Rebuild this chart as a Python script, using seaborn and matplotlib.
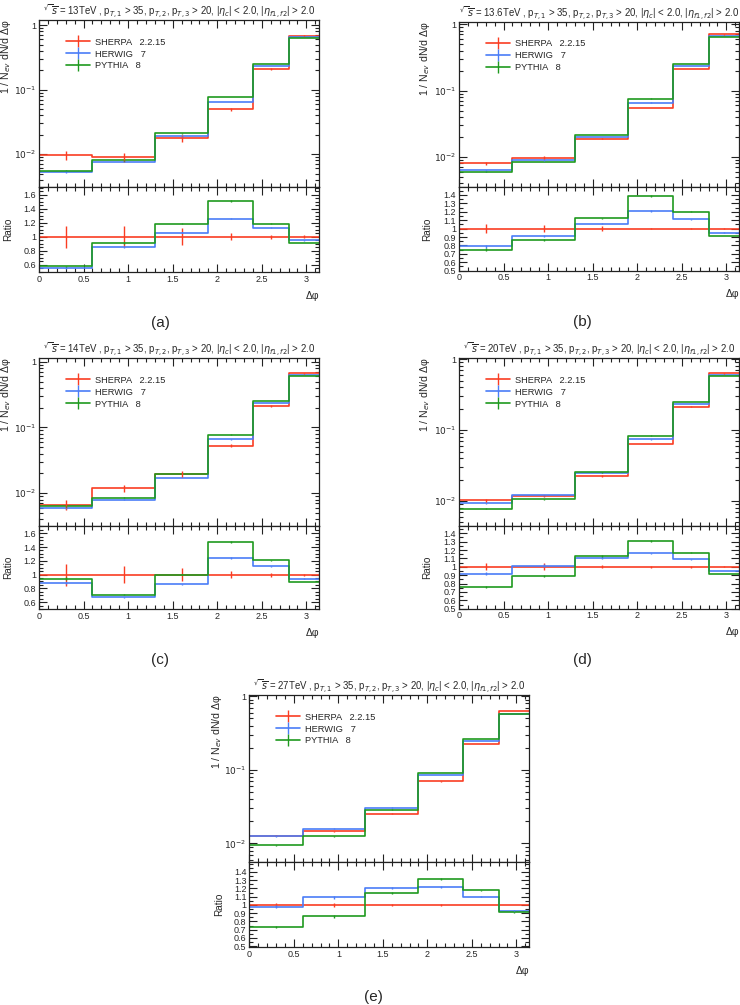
import numpy as np
import pandas as pd
import matplotlib
matplotlib.use("Agg")
import matplotlib.pyplot as plt
import seaborn as sns
from matplotlib.lines import Line2D
from matplotlib.ticker import FixedLocator, MultipleLocator, FuncFormatter, NullFormatter

# ---------------- data ----------------
edges = [0.0, 0.6, 1.3, 1.9, 2.4, 2.8, np.pi]
generators = ["SHERPA   2.2.15", "HERWIG   7", "PYTHIA   8"]
energies = ["13", "13.6", "14", "20", "27"]
tags = ["(a)", "(b)", "(c)", "(d)", "(e)"]

sherpa_13 = [0.0097, 0.0090, 0.0175, 0.050, 0.21, 0.69]
herwig_13 = [0.0053, 0.0076, 0.0188, 0.064, 0.234, 0.66]
pythia_13 = [0.0055, 0.0080, 0.021, 0.0765, 0.25, 0.64]
ratio_herwig_13 = [0.56, 0.85, 1.06, 1.26, 1.13, 0.95]
ratio_pythia_13 = [0.58, 0.91, 1.19, 1.51, 1.19, 0.91]
relerr_sherpa_13 = [0.16, 0.15, 0.12, 0.05, 0.03, 0.02]

sherpa_136 = [0.0080, 0.0098, 0.019, 0.055, 0.21, 0.70]
herwig_136 = [0.0063, 0.0089, 0.0201, 0.066, 0.233, 0.665]
pythia_136 = [0.0060, 0.0084, 0.0213, 0.076, 0.252, 0.637]
ratio_herwig_136 = [0.79, 0.91, 1.06, 1.21, 1.11, 0.95]
ratio_pythia_136 = [0.75, 0.86, 1.12, 1.39, 1.20, 0.91]
relerr_sherpa_136 = [0.05, 0.04, 0.03, 0.01, 0.01, 0.005]

sherpa_14 = [0.0067, 0.0119, 0.0197, 0.053, 0.21, 0.67]
herwig_14 = [0.0059, 0.0079, 0.0169, 0.066, 0.234, 0.63]
pythia_14 = [0.0063, 0.0085, 0.0197, 0.078, 0.254, 0.60]
ratio_herwig_14 = [0.88, 0.67, 0.86, 1.24, 1.12, 0.94]
ratio_pythia_14 = [0.94, 0.71, 1.00, 1.47, 1.21, 0.89]
relerr_sherpa_14 = [0.16, 0.12, 0.10, 0.05, 0.03, 0.015]

sherpa_20 = [0.0102, 0.0119, 0.0226, 0.064, 0.215, 0.63]
herwig_20 = [0.0093, 0.0121, 0.0249, 0.074, 0.234, 0.60]
pythia_20 = [0.0078, 0.0106, 0.0255, 0.084, 0.252, 0.58]
ratio_herwig_20 = [0.915, 1.015, 1.10, 1.16, 1.09, 0.95]
ratio_pythia_20 = [0.76, 0.89, 1.13, 1.31, 1.17, 0.915]
relerr_sherpa_20 = [0.04, 0.04, 0.02, 0.01, 0.01, 0.005]

sherpa_27 = [0.0128, 0.0146, 0.0253, 0.0695, 0.223, 0.625]
herwig_27 = [0.0126, 0.0159, 0.0306, 0.0848, 0.245, 0.58]
pythia_27 = [0.0094, 0.0126, 0.0288, 0.091, 0.263, 0.57]
ratio_herwig_27 = [0.98, 1.09, 1.21, 1.22, 1.10, 0.93]
ratio_pythia_27 = [0.73, 0.86, 1.14, 1.31, 1.18, 0.91]
relerr_sherpa_27 = [0.02, 0.02, 0.01, 0.01, 0.005, 0.005]

relerr_mc = [0.02, 0.015, 0.01, 0.008, 0.005, 0.004]

main_values = [
    (sherpa_13, herwig_13, pythia_13),
    (sherpa_136, herwig_136, pythia_136),
    (sherpa_14, herwig_14, pythia_14),
    (sherpa_20, herwig_20, pythia_20),
    (sherpa_27, herwig_27, pythia_27),
]
ratio_values = [
    (ratio_herwig_13, ratio_pythia_13),
    (ratio_herwig_136, ratio_pythia_136),
    (ratio_herwig_14, ratio_pythia_14),
    (ratio_herwig_20, ratio_pythia_20),
    (ratio_herwig_27, ratio_pythia_27),
]
sherpa_errors = [relerr_sherpa_13, relerr_sherpa_136, relerr_sherpa_14,
                 relerr_sherpa_20, relerr_sherpa_27]

# ---------------- style / layout ----------------
sns.set_style("ticks")
plt.rcParams["font.family"] = ["Liberation Sans", "DejaVu Sans"]
plt.rcParams["mathtext.fontset"] = "dejavusans"

colors = ["#fa3d22", "#4a7df7", "#1f9a1f"]
W, H = 740, 1005
fig = plt.figure(figsize=(W / 100, H / 100), dpi=100)


def rect(left, top, width, bottom):
    return [left / W, 1 - bottom / H, width / W, (bottom - top) / H]


# (left, top, width, boundary, bottom) in pixels
geo = [
    (39, 20, 280, 187, 272),
    (459, 21.7, 280, 187.3, 270.7),
    (39, 358, 280, 525.7, 609),
    (459, 358, 280, 525.7, 608.7),
    (249.3, 695, 279.7, 862, 947),
]
main_ylims = [(0.0031, 1.2), (0.0035, 1.09), (0.0032, 1.14), (0.0045, 1.04), (0.0056, 1.04)]
ratio_ylims = [(0.5, 1.71), (0.5, 1.49), (0.5, 1.71), (0.5, 1.49), (0.49, 1.52)]
ylabel_x = [6, 425, 6, 425, 217]
tag_pos = [(160, 323), (582, 322), (160, 660), (582, 660), (373, 997)]

fmt = FuncFormatter(lambda v, p: f"{v:g}")
centers = [(edges[i] + edges[i + 1]) / 2 for i in range(6)]


def step_frame(values, name):
    return pd.DataFrame({"x": edges, "y": list(values) + [values[-1]], "gen": name})


def style_axes(ax):
    ax.tick_params(which="both", direction="in", top=True, right=True,
                   labelsize=6.5, pad=2, color="#222222", width=0.8)
    ax.tick_params(which="major", length=5.5)
    ax.tick_params(which="minor", length=2.8)
    for s in ax.spines.values():
        s.set_linewidth(0.9)
        s.set_color("#222222")
    ax.set_xlim(0, np.pi)
    ax.xaxis.set_major_locator(MultipleLocator(0.5))
    ax.xaxis.set_minor_locator(MultipleLocator(0.1))


for k in range(5):
    left, top, width, bnd, bottom = geo[k]
    axm = fig.add_axes(rect(left, top, width, bnd))
    axr = fig.add_axes(rect(left, bnd, width, bottom))

    # ---- main panel ----
    df = pd.concat([step_frame(v, g) for v, g in zip(main_values[k], generators)])
    sns.lineplot(data=df, x="x", y="y", hue="gen", palette=colors, ax=axm,
                 drawstyle="steps-post", estimator=None, sort=False,
                 legend=False, linewidth=1.2)
    for j, (vals, c) in enumerate(zip(main_values[k], colors)):
        rel = sherpa_errors[k] if j == 0 else relerr_mc
        axm.errorbar(centers, vals, yerr=np.array(vals) * np.array(rel),
                     fmt="none", ecolor=c, elinewidth=1.0, zorder=3)
    axm.set_yscale("log")
    axm.set_ylim(*main_ylims[k])
    style_axes(axm)
    axm.yaxis.set_major_locator(FixedLocator([1e-2, 1e-1, 1]))
    axm.yaxis.set_major_formatter(FuncFormatter(
        lambda v, p: "1" if abs(v - 1) < 1e-9 else r"$10^{%d}$" % round(np.log10(v))))
    axm.yaxis.set_minor_locator(FixedLocator(
        [m * 10.0 ** e for e in (-3, -2, -1) for m in range(2, 10)]))
    axm.yaxis.set_minor_formatter(NullFormatter())
    axm.set_xticklabels([])
    axm.set_xlabel("")
    axm.set_ylabel("")
    axm.set_title(r"$^{\sqrt{\ }}\overline{s}$ = " + energies[k] +
                  r"TeV , p$_{T,1}$ > 35, p$_{T,2}$, p$_{T,3}$ > 20, |$\eta_{c}$| < 2.0, |$\eta_{f1,f2}$| > 2.0",
                  fontsize=6.9, pad=3)
    handles = [Line2D([], [], color=c, marker="|", markersize=8, lw=1.2) for c in colors]
    axm.legend(handles, generators, loc="upper left", bbox_to_anchor=(0.095, 0.895),
               frameon=False, fontsize=6.7, handlelength=2.6, handletextpad=0.55,
               labelspacing=0.32, borderpad=0, borderaxespad=0, numpoints=1)

    # ---- ratio panel ----
    axr.axhline(1.0, color=colors[0], lw=1.2)
    axr.errorbar(centers, np.ones(6), yerr=sherpa_errors[k], fmt="none",
                 ecolor=colors[0], elinewidth=1.0)
    dfr = pd.concat([step_frame(v, g) for v, g in zip(ratio_values[k], generators[1:])])
    sns.lineplot(data=dfr, x="x", y="y", hue="gen", palette=colors[1:], ax=axr,
                 drawstyle="steps-post", estimator=None, sort=False,
                 legend=False, linewidth=1.2)
    for vals, c in zip(ratio_values[k], colors[1:]):
        axr.errorbar(centers, vals, yerr=np.array(vals) * np.array(relerr_mc),
                     fmt="none", ecolor=c, elinewidth=1.0)
    axr.set_ylim(*ratio_ylims[k])
    style_axes(axr)
    if ratio_ylims[k][1] > 1.6:
        axr.yaxis.set_major_locator(FixedLocator([0.6, 0.8, 1.0, 1.2, 1.4, 1.6]))
        axr.yaxis.set_minor_locator(MultipleLocator(0.05))
    else:
        axr.yaxis.set_major_locator(FixedLocator([0.5, 0.6, 0.7, 0.8, 0.9, 1.0, 1.1, 1.2, 1.3, 1.4]))
        axr.yaxis.set_minor_locator(MultipleLocator(0.05))
    axr.yaxis.set_major_formatter(fmt)
    axr.xaxis.set_major_formatter(fmt)
    axr.set_ylabel("")
    axr.set_xlabel("Δφ", loc="right", fontsize=7.5, labelpad=5)

    # ---- axis titles and panel tag ----
    fig.text(ylabel_x[k] / W, 1 - (top - 1) / H, r"1 / N$_{ev}$ dN/d Δφ",
             rotation=90, ha="center", va="top", fontsize=7.6)
    fig.text((ylabel_x[k] + 2) / W, 1 - ((bnd + bottom) / 2) / H, "Ratio",
             rotation=90, ha="center", va="center", fontsize=7.2)
    tx, ty = tag_pos[k]
    fig.text(tx / W, 1 - ty / H, tags[k], ha="center", va="center", fontsize=11)

fig.savefig("out.png", dpi=100)
